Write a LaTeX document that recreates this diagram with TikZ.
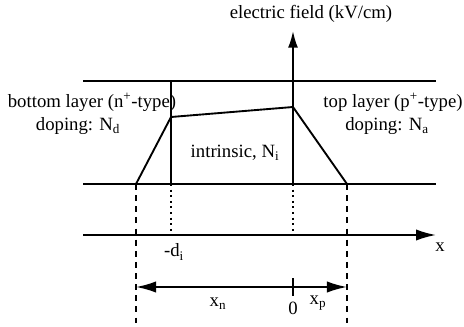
\documentclass[tikz,border=0pt]{standalone}
\usepackage{fontspec}
\setmainfont{Liberation Serif}
\usepackage{tikz}
\usetikzlibrary{arrows.meta,positioning,calc}

\begin{document}
\begin{tikzpicture}[
  x=0.03cm, y=-0.03cm,
  edge/.style={line width=1.6pt, color=black},
  thin edge/.style={line width=1pt, color=black},
  flow/.style={-{Latex[length=5mm,width=3mm]}, line width=1.6pt},
  axisflow/.style={-{Latex[length=6mm,width=3.4mm]}, line width=1.6pt},
  biflow/.style={{Latex[length=6mm,width=3.4mm]}-{Latex[length=6mm,width=3.4mm]}, line width=1.6pt},
  guide/.style={dash pattern=on 5pt off 4.5pt, line width=1.7pt},
  marker/.style={dash pattern=on 1.6pt off 3.2pt, line width=1.6pt},
  lbl/.style={font=\fontsize{16}{18}\selectfont, inner sep=0pt, align=center}
]
\useasboundingbox (0,0) rectangle (464,326);

% Layer boundaries
\coordinate (topL) at (83,81);
\coordinate (topR) at (436,81);
\coordinate (botL) at (83,184);
\coordinate (botR) at (436,184);
\draw[edge] (topL) -- (topR);
\draw[edge] (botL) -- (botR);

% Interface and field axis
\coordinate (diTop) at (171,81);
\coordinate (diBot) at (171,184);
\coordinate (zeroBot) at (293,184);
\coordinate (fieldTip) at (293,31);
\draw[edge] (diTop) -- (diBot);
\draw[flow] (zeroBot) -- (fieldTip);
\node[lbl] (fieldlbl) at (311,14) {electric field (kV/cm)};

% Field profile
\coordinate (xnBot) at (136,184);
\coordinate (kneeL) at (171,117);
\coordinate (kneeR) at (293,107);
\coordinate (xpBot) at (347,184);
\draw[edge, line join=miter] (xnBot) -- (kneeL) -- (kneeR) -- (xpBot);

% Region labels
\node[lbl] (bottomlbl) at (92,102) {bottom layer (n\textsuperscript{+}-type)};
\node[lbl] (ndlbl) at (78,126) {doping: N\textsubscript{d}};
\node[lbl] (ilbl) at (235,153) {intrinsic, N\textsubscript{i}};
\node[lbl] (toplbl) at (393,102) {top layer (p\textsuperscript{+}-type)};
\node[lbl] (nalbl) at (387,126) {doping: N\textsubscript{a}};

% x axis
\coordinate (axisL) at (83,235);
\coordinate (axisR) at (436,235);
\draw[axisflow] (axisL) -- (axisR);
\node[lbl] (xlbl) at (440,247) {x};

% Guides down to the axis
\coordinate (diAxis) at (171,232);
\coordinate (zeroAxis) at (293,232);
\coordinate (xnEnd) at (136,326);
\coordinate (xpEnd) at (347,326);
\draw[marker] (diBot) -- (diAxis);
\draw[marker] (zeroBot) -- (zeroAxis);
\draw[guide] (xnBot) -- (xnEnd);
\draw[guide] (xpBot) -- (xpEnd);
\node[lbl] (dilbl) at (174,252) {-d\textsubscript{i}};

% Depletion widths
\coordinate (xnArr) at (136,287);
\coordinate (xpArr) at (347,287);
\coordinate (tickTop) at (293,278);
\coordinate (tickBot) at (293,296);
\draw[biflow] (xnArr) -- (xpArr);
\draw[thin edge] (tickTop) -- (tickBot);
\node[lbl] (xnlbl) at (218,304) {x\textsubscript{n}};
\node[lbl] (zerolbl) at (293,308) {0};
\node[lbl] (xplbl) at (318,303) {x\textsubscript{p}};

\end{tikzpicture}
\end{document}
